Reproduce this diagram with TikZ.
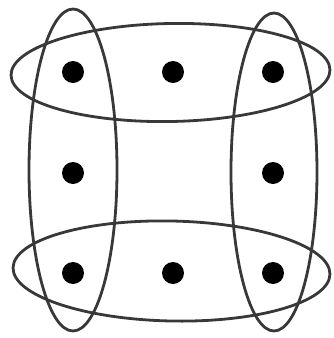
\documentclass[tikz,border=0pt]{standalone}
\begin{document}
\begin{tikzpicture}[x=1pt,y=-1pt,
  dot/.style={circle,fill=black,inner sep=0pt,minimum size=22pt},
  loop/.style={draw=black!78,line width=2.8pt}]
\useasboundingbox (0,0) rectangle (333,338);
\node[dot] (a1) at (73,72) {};
\node[dot] (a2) at (173,72) {};
\node[dot] (a3) at (273,72) {};
\node[dot] (b1) at (73,173) {};
\node[dot] (b3) at (273,173) {};
\node[dot] (c1) at (73,273) {};
\node[dot] (c2) at (173,273) {};
\node[dot] (c3) at (273,273) {};
\draw[loop,rotate around={1:(170.5,72.5)}] (170.5,72.5) ellipse [x radius=159.5, y radius=49];
\draw[loop,rotate around={-1.2:(171.5,271)}] (171.5,271) ellipse [x radius=158.5, y radius=50];
\draw[loop] (73,170) ellipse [x radius=44, y radius=161];
\draw[loop] (274,172) ellipse [x radius=43, y radius=159];
\end{tikzpicture}
\end{document}
